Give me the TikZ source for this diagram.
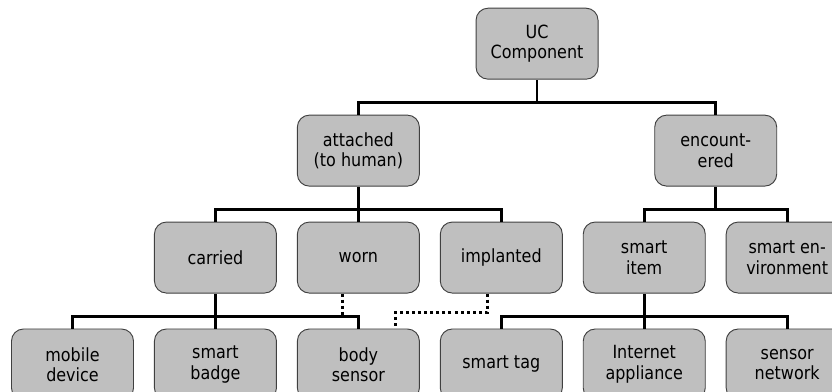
\documentclass[tikz,border=0pt]{standalone}
\usepackage{fontspec}
\setmainfont{DejaVu Sans}[FakeStretch=0.88]
\usepackage{tikz}
\usetikzlibrary{positioning,calc}

\begin{document}
\begin{tikzpicture}[
    node distance=1.05cm and 0.6cm,
    comp/.style={
        draw=black!75,
        line width=0.8pt,
        rounded corners=0.36cm,
        minimum width=3.66cm,
        minimum height=2.13cm,
        inner sep=0pt,
        align=center,
        fill=gray!50,
        font=\fontsize{15.5}{17.5}\selectfont
    },
    tree/.style={
        line width=2.4pt
    },
    link/.style={
        line width=2.4pt,
        dash pattern=on 2.6pt off 2.6pt
    }
]

\clip (0,0) rectangle (24.96,-11.76);

%-------------------------------------------------
% Leaves
%-------------------------------------------------

\node[comp] (mobile) at (2.175,-10.935) {mobile\\device};
\node[comp,right=of mobile] (badge) {smart\\badge};
\node[comp,right=of badge] (body) {body\\sensor};
\node[comp,right=of body] (tag) {smart tag};
\node[comp,right=of tag] (inet) {Internet\\appliance};
\node[comp,right=of inet] (snet) {sensor\\network};

%-------------------------------------------------
% Kinds
%-------------------------------------------------

\node[comp,above=of badge] (carried) {carried};
\node[comp,above=of body] (worn) {worn};
\node[comp,above=of tag] (impl) {implanted};
\node[comp,above=of inet] (sitem) {smart\\item};
\node[comp,above=of snet] (senv) {smart en-\\vironment};

%-------------------------------------------------
% Classes and root
%-------------------------------------------------

\node[comp,above=of worn] (attached) {attached\\(to human)};
\coordinate (encmid) at ($(sitem.north)!0.5!(senv.north)$);
\node[comp,above=of encmid] (encount) {encount-\\ered};
\coordinate (ucmid) at ($(attached.north)!0.5!(encount.north)$);
\node[comp,above=of ucmid] (uc) {UC\\Component};

%-------------------------------------------------
% Tree lines
%-------------------------------------------------

\draw[tree] (attached.north) -- ++(0,0.36) -| (uc.south);
\draw[tree] (encount.north) -- ++(0,0.36) -| (uc.south);

\foreach \kid in {carried,worn,impl}
    \draw[tree] (\kid.north) -- ++(0,0.36) -| (attached.south);
\foreach \kid in {sitem,senv}
    \draw[tree] (\kid.north) -- ++(0,0.36) -| (encount.south);

\foreach \kid in {mobile,badge,body}
    \draw[tree] (\kid.north) -- ++(0,0.36) -| (carried.south);
\foreach \kid in {tag,inet,snet}
    \draw[tree] (\kid.north) -- ++(0,0.36) -| (sitem.south);

%-------------------------------------------------
% Body sensor links
%-------------------------------------------------

\draw[link] ([xshift=-0.48cm]worn.south) -- ++(0,-0.66);
\draw[link] ([xshift=-0.42cm]impl.south) -- ++(0,-0.57)
    -| ([xshift=1.11cm]body.north);

\end{tikzpicture}
\end{document}
